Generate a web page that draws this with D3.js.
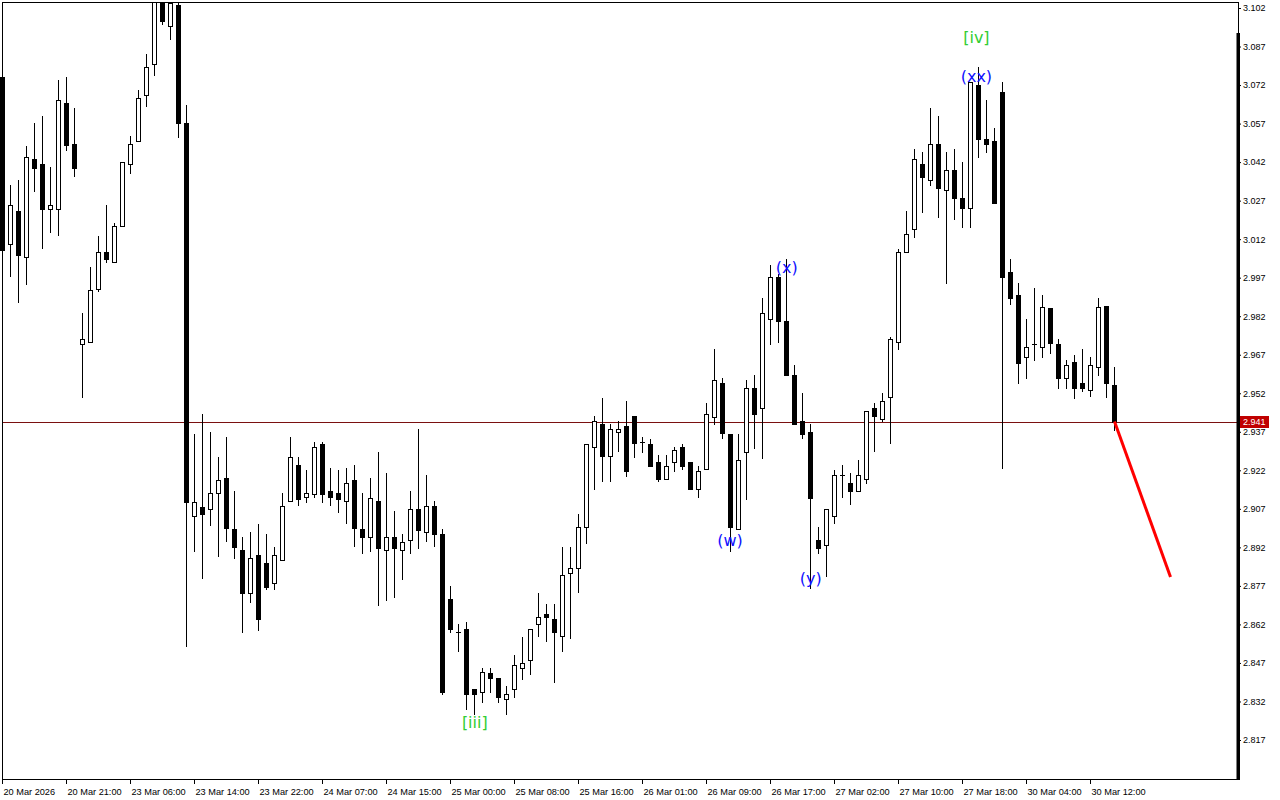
<!DOCTYPE html>
<html><head><meta charset="utf-8">
<script src="https://cdn.jsdelivr.net/npm/d3@7"></script>
<style>html,body{margin:0;padding:0;background:#fff;}svg{display:block}</style>
</head><body>
<svg id="chart" width="1280" height="800"></svg>
<script>
const opens = [3.0751,3.0101,3.0230,3.0050,3.0432,3.0413,3.0237,3.0237,3.0650,3.0490,
2.9712,2.9720,2.9926,3.0070,3.0031,3.0171,3.0413,3.0502,3.0681,3.0802,
3.1043,3.0950,3.1032,3.0572,2.9042,2.9077,2.9069,2.9132,2.9190,2.8991,
2.8910,2.8742,2.8890,2.8859,2.8781,2.8871,2.9101,2.9241,2.9116,2.9128,
2.9322,2.9139,2.9132,2.9101,2.9182,2.8991,2.8960,2.9101,2.8910,2.8960,
2.8910,2.8949,2.9069,2.8980,2.9081,2.8972,2.8719,2.8591,2.8602,2.8369,
2.8357,2.8431,2.8411,2.8330,2.8369,2.8450,2.8481,2.8622,2.8660,2.8641,
2.8575,2.8820,2.8840,2.8999,2.9311,2.9400,2.9276,2.9369,2.9393,2.9431,
2.9330,2.9322,2.9252,2.9186,2.9252,2.9311,2.9252,2.9147,2.9225,2.9428,
2.9560,2.9361,2.8991,2.9291,2.9540,2.9463,2.9809,2.9973,2.9801,2.9591,
2.9412,2.9369,2.8949,2.8929,2.9042,2.9202,2.9171,2.9139,2.9186,2.9463,
2.9420,2.9505,2.9720,3.0070,3.0160,3.0413,3.0350,3.0490,3.0311,3.0389,
3.0280,3.0241,3.0720,3.0510,3.0502,3.0693,2.9992,2.9903,2.9661,2.9712,
2.9700,2.9852,2.9712,2.9579,2.9642,2.9560,2.9533,2.9622,2.9860,2.9552];
const highs = [3.0755,3.0331,3.0350,3.0483,3.0572,3.0599,3.0401,3.0740,3.0751,3.0631,
2.9832,3.0012,3.0132,3.0253,3.0183,3.0420,3.0522,3.0701,3.0841,3.1075,
3.1063,3.1059,3.1043,3.0642,2.9361,2.9439,2.9369,2.9272,2.9350,2.9139,
2.8960,2.8980,2.9011,2.8972,2.8921,2.9132,2.9350,2.9272,2.9221,2.9330,
2.9330,2.9229,2.9221,2.9229,2.9241,2.9132,2.9190,2.9291,2.9210,2.9062,
2.8972,2.9139,2.9381,2.9202,2.9101,2.8991,2.8770,2.8622,2.8629,2.8369,
2.8450,2.8450,2.8411,2.8380,2.8501,2.8571,2.8602,2.8742,2.8699,2.8699,
2.8921,2.8921,2.9050,2.9322,2.9431,2.9502,2.9400,2.9412,2.9490,2.9431,
2.9350,2.9342,2.9280,2.9280,2.9311,2.9322,2.9252,2.9237,2.9482,2.9692,
2.9579,2.9361,2.9361,2.9572,2.9591,2.9891,3.0019,2.9985,3.0043,2.9630,
2.9521,2.9400,2.8999,2.9069,2.9221,2.9241,2.9210,2.9260,2.9451,2.9482,
2.9521,2.9739,3.0082,3.0230,3.0471,3.0459,3.0631,3.0599,3.0459,3.0471,
3.0420,3.0732,3.0790,3.0662,3.0553,3.0732,3.0043,2.9949,2.9809,2.9930,
2.9903,2.9852,2.9731,2.9649,2.9669,2.9692,2.9661,2.9891,2.9860,2.9622];
const lows = [3.0070,2.9977,2.9875,2.9945,3.0307,3.0086,3.0148,3.0136,3.0467,3.0366,
2.9505,2.9720,2.9918,3.0031,3.0031,3.0171,3.0378,3.0502,3.0638,3.0759,
3.0958,3.0899,3.0518,2.8536,2.8906,2.8801,2.9007,2.8886,2.8945,2.8879,
2.8590,2.8707,2.8598,2.8758,2.8758,2.8871,2.9101,2.9085,2.9097,2.9116,
2.9097,2.9085,2.9058,2.9015,2.8925,2.8898,2.8906,2.8696,2.8715,2.8727,
2.8797,2.8898,2.8918,2.8945,2.8925,2.8349,2.8590,2.8516,2.8291,2.8271,
2.8318,2.8357,2.8318,2.8271,2.8337,2.8407,2.8427,2.8575,2.8555,2.8396,
2.8516,2.8567,2.8746,2.8937,2.9147,2.9178,2.9178,2.9295,2.9198,2.9272,
2.9291,2.9237,2.9178,2.9186,2.9217,2.9225,2.9147,2.9116,2.9225,2.9400,
2.9346,2.8906,2.8991,2.9108,2.9307,2.9268,2.9712,2.9720,2.9591,2.9400,
2.9346,2.8762,2.8898,2.8808,2.9015,2.9116,2.9089,2.9139,2.9171,2.9295,
2.9412,2.9326,2.9692,3.0070,3.0128,3.0226,3.0331,3.0206,2.9949,3.0198,
3.0167,3.0167,3.0440,3.0459,3.0261,2.9229,2.9868,2.9560,2.9579,2.9649,
2.9661,2.9677,2.9540,2.9540,2.9502,2.9529,2.9509,2.9591,2.9505,2.9377];
const closes = [3.0078,3.0253,3.0058,3.0440,3.0397,3.0237,3.0253,3.0662,3.0487,3.0397,
2.9731,2.9922,3.0070,3.0043,3.0171,3.0420,3.0490,3.0670,3.0790,3.1047,
3.0969,3.1039,3.0572,2.9097,2.9097,2.9050,2.9132,2.9182,2.8995,2.8921,
2.8742,2.8879,2.8641,2.8766,2.8890,2.9081,2.9272,2.9108,2.9132,2.9311,
2.9128,2.9116,2.9108,2.9171,2.8995,2.8960,2.9112,2.8918,2.8960,2.8918,
2.8941,2.9069,2.8988,2.9081,2.8972,2.8357,2.8602,2.8590,2.8349,2.8349,
2.8435,2.8411,2.8337,2.8349,2.8462,2.8470,2.8602,2.8649,2.8649,2.8590,
2.8812,2.8840,2.8999,2.9322,2.9412,2.9276,2.9381,2.9381,2.9217,2.9326,
2.9329,2.9237,2.9186,2.9237,2.9299,2.9237,2.9147,2.9217,2.9439,2.9572,
2.9365,2.8999,2.9260,2.9540,2.9439,2.9832,2.9973,2.9801,2.9591,2.9400,
2.9361,2.9112,2.8918,2.9069,2.9202,2.9203,2.9139,2.9202,2.9451,2.9431,
2.9490,2.9731,3.0070,3.0140,3.0432,3.0362,3.0490,3.0319,3.0389,3.0280,
3.0241,3.0732,3.0510,3.0490,3.0261,2.9973,2.9891,2.9638,2.9700,2.9713,
2.9856,2.9716,2.9579,2.9630,2.9540,2.9540,2.9630,2.9856,2.9560,2.9410];

const timeLabels = ["20 Mar 2026","20 Mar 21:00","23 Mar 06:00","23 Mar 14:00","23 Mar 22:00",
"24 Mar 07:00","24 Mar 15:00","25 Mar 00:00","25 Mar 08:00","25 Mar 16:00","26 Mar 01:00",
"26 Mar 09:00","26 Mar 17:00","27 Mar 02:00","27 Mar 10:00","27 Mar 18:00","30 Mar 04:00","30 Mar 12:00"];
const timeLabelBars = [0,8,16,24,32,40,48,56,64,72,80,88,96,104,112,120,128,136];
const priceTicks = [3.102,3.087,3.072,3.057,3.042,3.027,3.012,2.997,2.982,2.967,2.952,2.937,
2.922,2.907,2.892,2.877,2.862,2.847,2.832,2.817];
const currentPrice = 2.941;
const waveText = ["[iii]","(w)","(x)","(y)","(xx)","[iv]"];
const waveBar = [59.1,91.0,98.1,101.1,121.8,121.8];
const wavePrice = [2.8240,2.8945,3.0008,2.8797,3.0755,3.0907];
const waveDegree = ["minor","minute","minute","minute","minute","minor"];
const forecastBar = [139,146];
const forecastPrice = [2.9410,2.8805];

const W = 1280, H = 800;
const L = 2, T = 2, R = 1238, B = 779;
const svg = d3.select("#chart");
const x = d3.scaleLinear().domain([0,139]).range([2,1114]);
const y = d3.scaleLinear().domain([2.817,3.102]).range([740,8]);
const degreeColor = d3.scaleOrdinal().domain(["minor","minute"]).range(["#32cd32","#1010ff"]);

svg.append("rect").attr("width",W).attr("height",H).attr("fill","#fff");
svg.append("defs").append("clipPath").attr("id","plot")
  .append("rect").attr("x",0).attr("y",T).attr("width",R).attr("height",B-T);

// current price line
svg.append("line").attr("x1",L).attr("x2",R).attr("y1",Math.round(y(currentPrice))+0.5)
  .attr("y2",Math.round(y(currentPrice))+0.5).attr("stroke","#7a1010").attr("stroke-width",1);

const data = opens.map((o,i)=>({i,o,h:highs[i],l:lows[i],c:closes[i]}));
const g = svg.append("g").attr("clip-path","url(#plot)");
const cg = g.selectAll("g.c").data(data).join("g").attr("class","c");
cg.each(function(d){
  const s = d3.select(this);
  const cx = Math.round(x(d.i));
  const yO = Math.round(y(d.o)), yC = Math.round(y(d.c)), yH = Math.round(y(d.h)), yL = Math.round(y(d.l));
  s.append("line").attr("x1",cx+0.5).attr("x2",cx+0.5).attr("y1",yH).attr("y2",yL+1)
    .attr("stroke","#000").attr("stroke-width",1);
  const top = Math.min(yO,yC), bot = Math.max(yO,yC);
  if (bot - top < 1) {
    s.append("line").attr("x1",cx-2).attr("x2",cx+3).attr("y1",top+0.5).attr("y2",top+0.5)
      .attr("stroke","#000").attr("stroke-width",1);
  } else if (d.c >= d.o) {
    s.append("rect").attr("x",cx-1.5).attr("y",top+0.5).attr("width",4).attr("height",bot-top)
      .attr("fill","#fff").attr("stroke","#000").attr("stroke-width",1);
  } else {
    s.append("rect").attr("x",cx-2).attr("y",top).attr("width",5).attr("height",bot-top+1)
      .attr("fill","#000");
  }
});

// forecast line
svg.append("path")
  .datum(forecastBar.map((b,k)=>[b,forecastPrice[k]]))
  .attr("d", d3.line().x(d=>x(d[0])+0.5).y(d=>y(d[1])))
  .attr("fill","none").attr("stroke","#ff0000").attr("stroke-width",3);

// wave labels
svg.append("g").selectAll("text").data(waveText).join("text")
  .attr("x",(d,k)=>x(waveBar[k])).attr("y",(d,k)=>y(wavePrice[k]))
  .attr("text-anchor","middle").attr("dominant-baseline","central")
  .attr("font-family","DejaVu Sans").attr("font-size",16)
  .attr("fill",(d,k)=>degreeColor(waveDegree[k])).text(d=>d);

// frame
const fr = svg.append("g").attr("stroke","#000").attr("stroke-width",1);
fr.append("line").attr("x1",L).attr("x2",R+1).attr("y1",T+0.5).attr("y2",T+0.5);
fr.append("line").attr("x1",L+0.5).attr("x2",L+0.5).attr("y1",T).attr("y2",B+1);
fr.append("line").attr("x1",L).attr("x2",R+1).attr("y1",B+0.5).attr("y2",B+0.5);
fr.append("line").attr("x1",R+0.5).attr("x2",R+0.5).attr("y1",T).attr("y2",B+1);
svg.append("rect").attr("x",R-1.5).attr("y",33).attr("width",3.5).attr("height",B-33+1).attr("fill","#000");

// price axis
const ya = svg.append("g").attr("transform",`translate(${R},0)`)
  .call(d3.axisRight(y).tickValues(priceTicks).tickFormat(d3.format(".3f")).tickSize(3).tickPadding(2));
ya.select(".domain").remove();
ya.selectAll("text").attr("font-family","Liberation Sans").attr("font-size",9).attr("fill","#000");
ya.selectAll("line").attr("stroke","#000");

// current price tag
const cy = Math.round(y(currentPrice));
svg.append("rect").attr("x",R+2).attr("y",cy-6).attr("width",29).attr("height",12).attr("fill","#c00000");
svg.append("text").attr("x",R+5).attr("y",cy).attr("dy","0.35em").attr("font-family","Liberation Sans")
  .attr("font-size",9).attr("fill","#fff").text(d3.format(".3f")(currentPrice));

// time axis
const xa = svg.append("g").attr("transform",`translate(0,${B})`)
  .call(d3.axisBottom(x).tickValues(timeLabelBars).tickFormat((d,k)=>timeLabels[k]).tickSize(5));
xa.select(".domain").remove();
xa.selectAll("line").attr("stroke","#000");
xa.selectAll("text").attr("x",1).attr("y",16).attr("dy",0).attr("text-anchor","start")
  .attr("font-family","Liberation Sans").attr("font-size",9.2).attr("fill","#000");
</script>
</body></html>
